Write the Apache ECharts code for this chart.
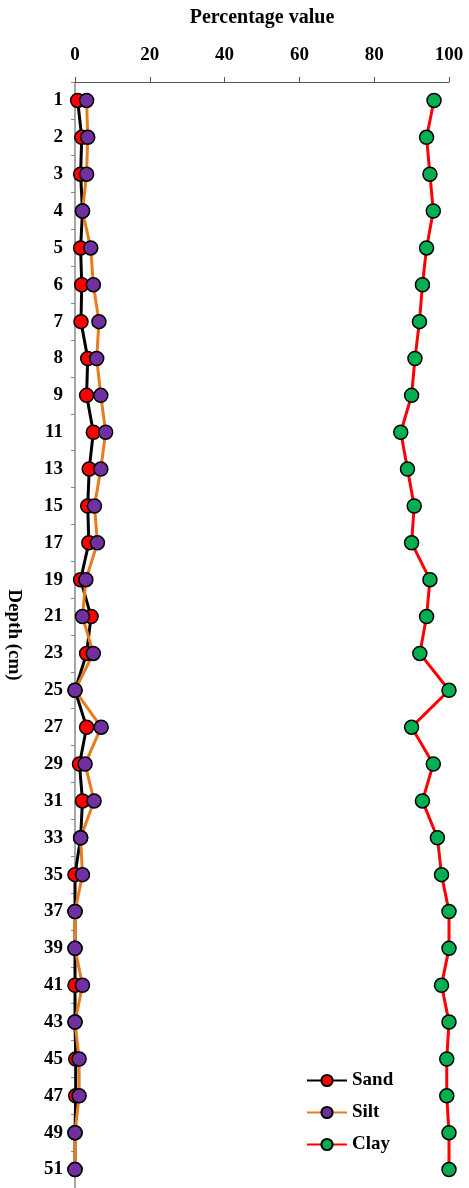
<!DOCTYPE html>
<html>
<head>
<meta charset="utf-8">
<script src="https://cdn.jsdelivr.net/npm/echarts@6/dist/echarts.min.js"></script>
<style>
  body { margin: 0; background: #fff; }
  #main { width: 469px; height: 1188px; }
</style>
</head>
<body>
<div id="main"></div>
<script>
const depths = ['1', '2', '3', '4', '5', '6', '7', '8', '9', '11', '13', '15', '17', '19', '21',
  '23', '25', '27', '29', '31', '33', '35', '37', '39', '41', '43', '45', '47', '49', '51'];
const sand = [0.7, 1.8, 1.5, 2.0, 1.5, 1.8, 1.6, 3.4, 3.1, 4.9, 3.8, 3.4, 3.7, 1.5, 4.3,
  3.1, 0, 3.1, 1.2, 2.0, 1.5, 0, 0, 0, 0, 0, 0.2, 0.2, 0, 0];
const silt = [3.1, 3.4, 3.1, 2.0, 4.2, 4.9, 6.4, 5.8, 6.9, 8.2, 6.9, 5.2, 6.0, 2.9, 2.0,
  4.9, 0, 7.0, 2.7, 5.1, 1.5, 2.0, 0, 0, 2.0, 0, 1.1, 1.1, 0, 0];
const clay = [96.0, 94.0, 94.9, 95.8, 94.0, 92.9, 92.1, 90.9, 90.0, 87.1, 88.9, 90.7, 90.0, 94.9, 94.0,
  92.2, 100, 90.0, 95.8, 92.9, 96.9, 98.0, 100, 100, 98.0, 100, 99.4, 99.4, 100, 100];
const xTicks = [0, 100, 20];

const font = 'Liberation Serif, Times New Roman, serif';
const chart = echarts.init(document.getElementById('main'));

function mk(name, data, lineColor, dotColor) {
  return {
    name: name,
    type: 'line',
    data: data,
    symbol: 'circle',
    symbolSize: 14,
    lineStyle: { color: lineColor, width: 3 },
    itemStyle: { color: dotColor, borderColor: '#000', borderWidth: 1.5 },
    emphasis: { disabled: true }
  };
}

chart.setOption({
  animation: false,
  grid: { left: 75, right: 20, top: 82, height: 1106, outerBoundsMode: 'none', containLabel: false },
  legend: {
    orient: 'vertical',
    left: 301,
    top: 1066,
    itemWidth: 40,
    itemHeight: 14,
    itemGap: 13,
    textStyle: { fontFamily: font, fontWeight: 'bold', fontSize: 19, color: '#000' },
    data: ['Sand', 'Silt', 'Clay']
  },
  xAxis: {
    type: 'value',
    position: 'top',
    min: xTicks[0],
    max: xTicks[1],
    interval: xTicks[2],
    name: 'Percentage value',
    nameLocation: 'middle',
    nameGap: 54,
    nameTextStyle: { fontFamily: font, fontWeight: 'bold', fontSize: 20, color: '#000' },
    axisLine: { show: true, lineStyle: { color: '#555', width: 1 } },
    axisTick: { show: true, length: 5, lineStyle: { color: '#555' } },
    axisLabel: { fontFamily: font, fontWeight: 'bold', fontSize: 19, color: '#000', margin: 17 },
    splitLine: { show: false }
  },
  yAxis: {
    type: 'category',
    inverse: true,
    data: depths,
    name: 'Depth (cm)',
    nameLocation: 'middle',
    nameRotate: -90,
    nameGap: 52,
    nameTextStyle: { fontFamily: font, fontWeight: 'bold', fontSize: 19, color: '#000' },
    axisLine: { lineStyle: { color: '#8a8a8a', width: 1.5 } },
    axisTick: { show: true, length: 4, lineStyle: { color: '#8a8a8a' } },
    axisLabel: { fontFamily: font, fontWeight: 'bold', fontSize: 19, color: '#000', margin: 12 }
  },
  series: [
    mk('Sand', sand, '#000000', '#ff0000'),
    mk('Silt', silt, '#e87d1e', '#7030a0'),
    mk('Clay', clay, '#ff0000', '#00b050')
  ]
});
</script>
</body>
</html>
